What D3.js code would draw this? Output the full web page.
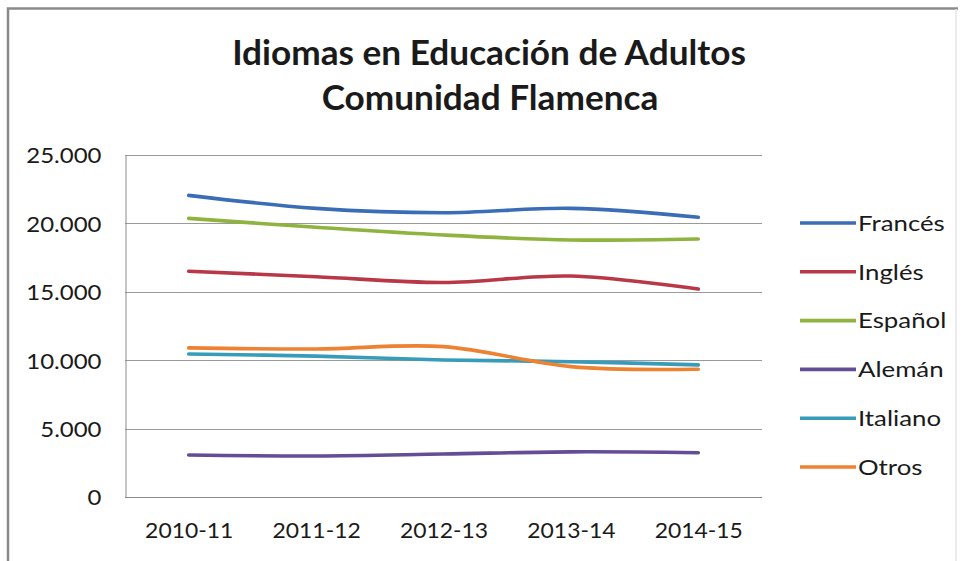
<!DOCTYPE html>
<html>
<head>
<meta charset="utf-8">
<script src="https://cdn.jsdelivr.net/npm/d3@7"></script>
<style>
  html, body { margin: 0; padding: 0; background: #ffffff; }
  svg { display: block; }
  text { font-family: Lato, "Open Sans", sans-serif; fill: #1a1a1a; }
</style>
</head>
<body>
<svg id="chart" width="963" height="561"></svg>
<script>
// Academic years on the horizontal axis
const categories = ["2010-11", "2011-12", "2012-13", "2013-14", "2014-15"];

// Enrolments per language
const frances  = [22050, 21100, 20780, 21100, 20450];
const ingles   = [16500, 16100, 15680, 16150, 15200];
const espanol  = [20370, 19720, 19150, 18790, 18860];
const aleman   = [3070, 3000, 3140, 3300, 3240];
const italiano = [10450, 10300, 10020, 9890, 9660];
const otros    = [10900, 10820, 10990, 9530, 9340];

const seriesNames = ["Francés", "Inglés", "Español", "Alemán", "Italiano", "Otros"];
const seriesColors = ["#3A6DB5", "#B83848", "#8EB33E", "#634D96", "#379CBA", "#EC8232"];
const yTicks = [0, 5000, 10000, 15000, 20000, 25000];

const titleLines = ["Idiomas en Educación de Adultos", "Comunidad Flamenca"];

const seriesValues = [frances, ingles, espanol, aleman, italiano, otros];
const series = seriesNames.map((name, i) => ({
  name, color: seriesColors[i],
  values: seriesValues[i].map((v, j) => ({ cat: categories[j], v }))
}));

const svg = d3.select("#chart");

// Chart frame
svg.append("rect").attr("x", 0).attr("y", 0).attr("width", 963).attr("height", 561).attr("fill", "#ffffff");
svg.append("path")
  .attr("d", "M8,561 V8.5 H958")
  .attr("fill", "none").attr("stroke", "#8a8a8a").attr("stroke-width", 2.5);
svg.append("line").attr("x1", 956).attr("x2", 956).attr("y1", 9).attr("y2", 561)
  .attr("stroke", "#e4e4e4").attr("stroke-width", 1.5);

// Sizes a text so that its width hits a target
function fit(sel, target) {
  const w = sel.node().getComputedTextLength();
  const fs = parseFloat(sel.attr("font-size"));
  sel.attr("font-size", fs * target / w);
}

// Widens glyphs horizontally by a factor, keeping their height
function widen(sel, factor) {
  sel.each(function () {
    const w = this.getComputedTextLength();
    d3.select(this).attr("textLength", w * factor).attr("lengthAdjust", "spacingAndGlyphs");
  });
}

// Title
const t1 = svg.append("text").attr("x", 489).attr("y", 65).attr("text-anchor", "middle")
  .attr("font-size", 32).attr("font-weight", 700).text(titleLines[0]);
fit(t1, 514);
const t2 = svg.append("text").attr("x", 490).attr("y", 110).attr("text-anchor", "middle")
  .attr("font-size", 32).attr("font-weight", 700).text(titleLines[1]);
t2.attr("font-size", t1.attr("font-size"));

const x = d3.scalePoint().domain(categories).range([125, 762]).padding(0.5);
const y = d3.scaleLinear().domain([0, 25000]).range([497, 155]);

const fmt = d => d3.format(",")(d).replace(/,/g, ".");

// Gridlines
svg.append("g").selectAll("line").data(yTicks.filter(d => d > 0)).join("line")
  .attr("x1", 125).attr("x2", 762)
  .attr("y1", d => Math.round(y(d)) + 0.5).attr("y2", d => Math.round(y(d)) + 0.5)
  .attr("stroke", "#9a9a9a").attr("stroke-width", 1);

// Y axis
const yAxis = svg.append("g").attr("transform", "translate(125.5,0)")
  .call(d3.axisLeft(y).tickValues(yTicks).tickFormat(fmt).tickSize(0).tickPadding(24));
yAxis.select(".domain").attr("stroke", "#8a8a8a");
yAxis.selectAll("text").attr("font-size", 22).attr("fill", "#1a1a1a")
  .style("font-family", "Lato, sans-serif").attr("dy", "0.36em");
widen(yAxis.selectAll("text"), 1.09);

// X axis
const xAxis = svg.append("g").attr("transform", "translate(0,497.5)")
  .call(d3.axisBottom(x).tickSize(0).tickPadding(26));
xAxis.select(".domain").attr("stroke", "#8a8a8a").attr("d", "M125,0H762");
xAxis.selectAll("text").attr("font-size", 21).attr("fill", "#1a1a1a")
  .style("font-family", "Lato, sans-serif");
widen(xAxis.selectAll("text"), 1.09);

// Series lines
const line = d3.line().x(d => x(d.cat)).y(d => y(d.v)).curve(d3.curveCatmullRom.alpha(0.5));
svg.append("g").selectAll("path").data(series).join("path")
  .attr("d", d => line(d.values))
  .attr("fill", "none").attr("stroke", d => d.color)
  .attr("stroke-width", 3.6).attr("stroke-linecap", "round").attr("stroke-linejoin", "round");

// Legend
const legend = svg.append("g").selectAll("g").data(series).join("g")
  .attr("transform", (d, i) => `translate(800,${223 + i * 48.8})`);
legend.append("line").attr("x1", 0).attr("x2", 56).attr("y1", 0).attr("y2", 0)
  .attr("stroke", d => d.color).attr("stroke-width", 3.6);
const legendText = legend.append("text").attr("x", 58).attr("y", 0).attr("dy", "0.36em")
  .attr("font-size", 21.5).text(d => d.name);
widen(legendText, 1.2);
</script>
</body>
</html>
